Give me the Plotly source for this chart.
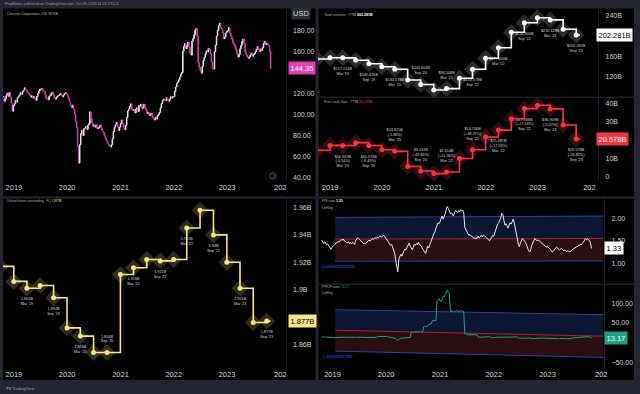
import plotly.graph_objects as go
import pandas as pd

# ---------------- DATA ----------------
last_week = "2023-10-27"

# weekly closes (CVX, 1W), Oct-2018 .. Oct-2023
price_close = [
    117.5, 113.0,
    115.2, 118.4, 120.9, 117.6, 121.3,
    116.8, 111.4, 103.5, 108.8,
    110.6, 113.9, 112.2, 116.4,
    117.8, 119.1, 121.4, 119.6,
    122.3, 123.8, 125.9, 124.1, 123.2,
    121.1, 120.3, 118.6, 116.9,
    118.2, 116.1, 117.4, 115.2, 114.0,
    117.5, 120.6, 122.8, 124.4,
    124.6, 125.3, 123.1, 122.4,
    119.0, 116.2, 115.0, 114.3, 117.7,
    118.6, 120.5, 121.8, 119.4,
    116.4, 115.0, 116.8, 117.9,
    118.6, 119.3, 120.4, 118.5, 117.2,
    118.9, 120.2, 121.3, 120.1,
    118.1, 115.6, 112.3, 109.0, 107.1,
    109.5, 105.3, 100.8, 93.4,
    88.2, 70.1, 54.0, 71.6,
    82.0, 85.4, 80.3, 86.8,
    87.5, 88.9, 86.2, 90.1, 91.7,
    103.0, 96.4, 92.3, 89.2,
    90.1, 88.2, 90.6, 87.0, 87.5,
    88.4, 90.3, 87.6, 84.7,
    83.6, 80.5, 77.8, 75.4,
    73.2, 72.0, 70.8, 69.4, 71.5,
    77.2, 84.1, 88.3, 90.6,
    93.2, 89.0, 85.1, 88.4,
    91.8, 95.2, 91.4, 87.3, 86.0,
    90.2, 97.6, 103.8, 105.7,
    108.3, 110.6, 105.2, 104.4,
    104.9, 101.8, 105.5, 106.9, 103.1,
    109.2, 108.1, 110.4, 106.3,
    107.0, 110.2, 106.1, 104.4,
    101.2, 102.6, 99.3, 100.5, 101.8,
    98.1, 96.3, 95.1, 97.4,
    96.0, 99.2, 100.4, 102.5,
    106.8, 110.9, 113.6, 115.2, 114.0,
    113.5, 116.3, 114.2, 113.0,
    115.1, 117.4, 116.0, 117.3, 117.4,
    122.4, 126.6, 129.8, 131.3,
    133.4, 136.2, 138.7, 140.5,
    160.8, 165.3, 168.2, 163.0,
    166.1, 169.4, 164.7, 158.9, 157.0,
    170.2, 172.8, 176.4, 180.6,
    182.3, 175.1, 150.4, 145.2,
    142.1, 139.8, 146.3, 152.0, 154.9,
    158.4, 161.2, 160.0, 163.4,
    162.1, 158.0, 150.2, 144.3, 143.7,
    160.3, 166.5, 175.2, 180.4,
    185.1, 187.6, 183.0, 182.2,
    178.4, 172.6, 174.3, 178.0, 179.5,
    180.2, 183.4, 178.1, 175.0,
    172.3, 168.5, 167.4, 165.2,
    162.0, 158.3, 155.1, 157.6, 163.1,
    166.4, 170.2, 172.5, 168.3,
    160.1, 157.4, 155.2, 154.0,
    155.3, 157.2, 159.1, 156.0, 157.4,
    158.2, 160.3, 162.5, 165.1,
    162.2, 160.4, 163.0, 161.3,
    164.2, 168.1, 170.3, 167.0, 168.6,
    167.2, 166.1, 160.4, 144.35,
]

ps_ratio = [
    1.52, 1.47,
    1.44, 1.48, 1.45, 1.41, 1.43,
    1.38, 1.34, 1.31, 1.35,
    1.38, 1.40, 1.43, 1.45,
    1.46, 1.48, 1.47, 1.50,
    1.53, 1.51, 1.54, 1.50, 1.49,
    1.47, 1.45, 1.48, 1.44,
    1.46, 1.43, 1.47, 1.45, 1.42,
    1.50, 1.54, 1.57, 1.55,
    1.53, 1.50, 1.47, 1.45,
    1.43, 1.45, 1.44, 1.47, 1.50,
    1.52, 1.49, 1.52, 1.55,
    1.53, 1.55, 1.57, 1.55,
    1.58, 1.56, 1.59, 1.61, 1.58,
    1.60, 1.62, 1.60, 1.57,
    1.55, 1.51, 1.47, 1.43, 1.40,
    1.42, 1.35, 1.28, 1.22,
    1.05, 0.90, 0.81, 1.10,
    1.14, 1.20, 1.16, 1.25,
    1.28, 1.32, 1.30, 1.36, 1.40,
    1.45, 1.38, 1.33, 1.30,
    1.35, 1.42, 1.40, 1.44, 1.41,
    1.47, 1.42, 1.40, 1.38,
    1.32, 1.28, 1.25, 1.22,
    1.30, 1.38, 1.34, 1.42, 1.45,
    1.52, 1.60, 1.66, 1.70,
    1.78, 1.86, 1.90, 1.88,
    1.92, 2.00, 2.05, 1.98, 2.03,
    2.10, 2.20, 2.26, 2.22,
    2.15, 2.10, 2.12, 2.08,
    2.05, 2.12, 2.18, 2.15, 2.13,
    2.17, 2.14, 2.19, 2.16,
    2.18, 2.12, 1.80, 1.74,
    1.70, 1.66, 1.62, 1.64, 1.61,
    1.60, 1.58, 1.55, 1.57,
    1.54, 1.58, 1.60, 1.56,
    1.60, 1.62, 1.59, 1.63, 1.61,
    1.60, 1.57, 1.55, 1.52,
    1.50, 1.54, 1.58, 1.62, 1.60,
    1.68, 1.75, 1.82, 1.88,
    1.90, 1.95, 2.02, 2.11,
    2.08, 1.95, 1.85, 1.88,
    1.80, 1.78, 1.85, 1.90, 1.87,
    1.95, 1.98, 1.90, 1.80,
    1.70, 1.55, 1.42, 1.37,
    1.45, 1.52, 1.55, 1.52, 1.50,
    1.46, 1.40, 1.33, 1.28,
    1.25, 1.30, 1.40, 1.48, 1.50,
    1.55, 1.53, 1.50, 1.52,
    1.51, 1.49, 1.46, 1.44,
    1.42, 1.40, 1.38, 1.36, 1.37,
    1.36, 1.34, 1.31, 1.28,
    1.25, 1.27, 1.30, 1.33,
    1.36, 1.34, 1.31, 1.30, 1.32,
    1.33, 1.30, 1.28, 1.29,
    1.27, 1.26, 1.28, 1.27,
    1.25, 1.28, 1.30, 1.32, 1.33,
    1.34, 1.36, 1.37, 1.38,
    1.40, 1.42, 1.41, 1.44,
    1.46, 1.50, 1.55, 1.52, 1.54,
    1.53, 1.51, 1.45, 1.33,
]

pfcf_ratio = [
    15.0, 14.6,
    14.8, 15.0, 14.5, 14.2, 14.6,
    13.8, 13.0, 12.2, 12.8,
    13.1, 13.3, 13.6, 13.9,
    13.8, 13.9, 14.1, 14.0,
    14.3, 14.4, 14.6, 14.4, 14.3,
    14.2, 14.0, 13.8, 13.6,
    13.7, 13.5, 13.6, 13.4, 13.3,
    13.8, 14.1, 14.3, 14.4,
    14.4, 14.5, 14.3, 14.2,
    13.8, 13.5, 13.4, 13.6, 13.7,
    13.7, 14.0, 14.1, 13.9,
    13.6, 13.4, 13.5, 13.6,
    15.8, 16.0, 16.1, 16.0, 15.9,
    15.9, 16.1, 16.3, 16.2,
    16.0, 15.6, 15.2, 14.6, 14.2,
    13.5, 12.8, 12.1, 11.2,
    10.6, 8.3, 6.5, 8.6,
    11.8, 12.2, 11.5, 12.4,
    12.6, 12.8, 12.5, 13.0, 13.2,
    14.8, 13.8, 26.5, 25.6,
    27.5, 27.0, 28.0, 27.2, 27.4,
    28.0, 29.0, 28.0, 27.0,
    26.0, 40.0, 42.0, 41.0,
    40.0, 44.0, 46.0, 47.0, 46.5,
    52.0, 57.0, 56.0, 55.0,
    56.0, 104.0, 108.0, 111.0,
    106.0, 103.0, 108.0, 118.0, 116.0,
    122.0, 128.0, 132.0, 126.0,
    124.0, 79.0, 78.0, 77.0,
    78.0, 80.0, 79.0, 81.0, 80.0,
    80.0, 78.0, 81.0, 79.0,
    80.0, 78.0, 23.0, 22.0,
    21.0, 20.5, 20.0, 20.3, 20.1,
    19.8, 19.5, 19.2, 19.6,
    19.4, 20.0, 14.0, 14.2,
    14.5, 14.8, 15.1, 15.2, 15.0,
    15.0, 15.3, 15.0, 14.9,
    15.1, 15.2, 13.0, 12.8, 12.9,
    13.2, 13.6, 14.0, 14.2,
    14.5, 14.8, 15.0, 15.2,
    13.8, 14.3, 14.6, 14.2,
    14.4, 14.6, 14.2, 13.8, 13.6,
    14.5, 14.8, 15.1, 15.3,
    15.4, 14.9, 12.0, 11.5,
    11.3, 11.1, 11.5, 11.9, 12.1,
    12.2, 12.4, 12.3, 12.5,
    12.2, 11.8, 10.5, 10.0, 10.2,
    10.8, 11.2, 11.7, 12.0,
    12.3, 12.4, 12.2, 12.1,
    11.9, 11.5, 11.6, 11.8, 11.9,
    12.0, 12.2, 11.8, 11.6,
    11.4, 11.1, 11.0, 10.9,
    10.7, 10.4, 10.3, 10.8, 11.0,
    11.0, 11.2, 11.3, 11.1,
    10.7, 10.5, 10.4, 10.3,
    10.4, 10.5, 10.6, 12.6, 12.4,
    12.5, 12.7, 12.9, 13.2,
    13.8, 14.2, 14.5, 14.3,
    14.6, 15.0, 15.5, 15.2, 15.3,
    15.3, 15.1, 14.7, 13.17,
]

quarters = ["2018-09-30", "2018-12-31", "2019-03-31", "2019-06-30", "2019-09-30",
            "2019-12-31", "2020-03-31", "2020-06-30", "2020-09-30", "2020-12-31",
            "2021-03-31", "2021-06-30", "2021-09-30", "2021-12-31", "2022-03-31",
            "2022-06-30", "2022-09-30", "2022-12-31", "2023-03-31", "2023-06-30",
            "2023-09-30"]
quarter_names = ["Sep '18", "Dec '18", "Mar '19", "Jun '19", "Sep '19", "Dec '19",
                 "Mar '20", "Jun '20", "Sep '20", "Dec '20", "Mar '21", "Jun '21",
                 "Sep '21", "Dec '21", "Mar '22", "Jun '22", "Sep '22", "Dec '22",
                 "Mar '23", "Jun '23", "Sep '23"]

revenue_ttm = [154.9, 157.5, 157.214, 152.3, 145.426, 139.7, 134.578, 113.4, 104.601,
               93.7, 96.508, 116.8, 134.578, 156.3, 177.2, 207.6, 226.6, 236.4,
               232.128, 213.5, 202.281]
fcf_ttm = [14.4, 17.059, 16.967, 18.55, 16.975, 14.686, 13.825, 5.591, 3.137,
           1.727, 2.614, 9.912, 14.706, 21.59, 25.381, 31.53, 37.068, 38.88,
           36.909, 28.12, 20.578]
shares_dil = [1.917, 1.906, 1.901, 1.903, 1.894, 1.872, 1.866, 1.854, 1.854,
              1.911, 1.916, 1.922, 1.921, 1.922, 1.945, 1.958, 1.940, 1.920,
              1.901, 1.876, 1.877]

# linear-regression channel end values
ps_band_dates = ["2019-01-19", "2024-01-15"]
ps_upper = [2.02, 2.05]
ps_mid = [1.537, 1.552]
ps_lower = [1.045, 1.052]
pfcf_band_dates = ["2019-01-19", "2024-01-15"]
pfcf_upper = [83.3, 70.8]
pfcf_mid = [31.7, 16.7]
pfcf_lower = [-20.8, -36.7]

year_ticks = ["2019-01-01", "2020-01-01", "2021-01-01", "2022-01-01", "2023-01-01", "2024-01-01"]
year_text = ["2019", "2020", "2021", "2022", "2023", "202"]

# ---------------- LAYOUT HELPERS ----------------
W, H = 640, 394
FONT = "Liberation Sans"
TICK = "#d1d4dc"
BG = "#232631"


def fx(px):
    return px / W


def fy(py):
    return 1 - py / H


price_dates = pd.date_range(end=last_week, periods=len(price_close), freq="W-FRI")
ps_dates = pd.date_range(end=last_week, periods=len(ps_ratio), freq="W-FRI")
pfcf_dates = pd.date_range(end=last_week, periods=len(pfcf_ratio), freq="W-FRI")
price_open = [price_close[0]] + price_close[:-1]
price_high = [max(o, c) for o, c in zip(price_open, price_close)]
price_low = [min(o, c) for o, c in zip(price_open, price_close)]

fig = go.Figure()

# price candles
fig.add_trace(go.Candlestick(
    x=price_dates, open=price_open, high=price_high, low=price_low, close=price_close,
    increasing=dict(line=dict(color="#e6e6e6", width=1), fillcolor="#e6e6e6"),
    decreasing=dict(line=dict(color="#d93ab0", width=1), fillcolor="#d93ab0"),
    xaxis="x", yaxis="y", showlegend=False, hoverinfo="skip"))


def step_series(vals, color, halo, xa, ya, label_pos, label_fn):
    texts, poss = [], []
    for i, v in enumerate(vals):
        if i >= 2 and i % 2 == 0:
            texts.append(label_fn(i))
        else:
            texts.append("")
        poss.append(label_pos.get(i, "bottom center"))
    fig.add_trace(go.Scatter(x=[quarters[-1], last_week], y=[vals[-1], vals[-1]], mode="lines",
                             line=dict(color=color, width=1.6), xaxis=xa, yaxis=ya,
                             showlegend=False, hoverinfo="skip"))
    fig.add_trace(go.Scatter(x=quarters, y=vals, mode="markers+text",
                             marker=dict(symbol="diamond", size=13, color=halo),
                             text=texts, textposition=poss,
                             textfont=dict(size=3.8, color="#d1d4dc", family=FONT),
                             xaxis=xa, yaxis=ya, showlegend=False, hoverinfo="skip"))
    fig.add_trace(go.Scatter(x=quarters, y=vals, mode="lines+markers",
                             line=dict(color=color, width=1.6, shape="hv"),
                             marker=dict(size=5, color=color),
                             xaxis=xa, yaxis=ya, showlegend=False, hoverinfo="skip"))


step_series(revenue_ttm, "#ffffff", "rgba(255,255,255,0.17)", "x2", "y2",
            {8: "top center", 10: "top center"},
            lambda i: f"${revenue_ttm[i]:.3f}B<br>{quarter_names[i]}")
step_series(fcf_ttm, "#f23645", "rgba(242,54,69,0.22)", "x3", "y3",
            {6: "top center", 8: "top center", 10: "top center", 12: "top center"},
            lambda i: f"${fcf_ttm[i]:.3f}B<br>({(fcf_ttm[i] / fcf_ttm[i - 1] - 1) * 100:+.2f}%)<br>{quarter_names[i]}")
step_series(shares_dil, "#f7e38a", "rgba(247,227,138,0.2)", "x4", "y4",
            {8: "top center"},
            lambda i: f"{shares_dil[i]:.3f}".rstrip("0") + f"B<br>{quarter_names[i]}")


def channel(dates, lower, mid, upper, xa, ya):
    fig.add_trace(go.Scatter(x=dates, y=lower, mode="lines", line=dict(color="#2345a8", width=1),
                             xaxis=xa, yaxis=ya, showlegend=False, hoverinfo="skip"))
    fig.add_trace(go.Scatter(x=dates, y=mid, mode="lines", line=dict(color="#a3262f", width=1),
                             fill="tonexty", fillcolor="#2a0f12",
                             xaxis=xa, yaxis=ya, showlegend=False, hoverinfo="skip"))
    fig.add_trace(go.Scatter(x=dates, y=upper, mode="lines", line=dict(color="#2345a8", width=1),
                             fill="tonexty", fillcolor="#0b1733",
                             xaxis=xa, yaxis=ya, showlegend=False, hoverinfo="skip"))


channel(ps_band_dates, ps_lower, ps_mid, ps_upper, "x5", "y5")
fig.add_trace(go.Scatter(x=ps_dates, y=ps_ratio, mode="lines", line=dict(color="#e8e8e8", width=1),
                         xaxis="x5", yaxis="y5", showlegend=False, hoverinfo="skip"))
channel(pfcf_band_dates, pfcf_lower, pfcf_mid, pfcf_upper, "x6", "y6")
fig.add_trace(go.Scatter(x=pfcf_dates, y=pfcf_ratio, mode="lines", line=dict(color="#1f9f86", width=1),
                         xaxis="x6", yaxis="y6", showlegend=False, hoverinfo="skip"))


def xax(dom, rng, show, anchor):
    return dict(domain=dom, range=rng, type="date", anchor=anchor, showgrid=False, zeroline=False,
                showline=False, tickvals=year_ticks, ticktext=year_text, showticklabels=show,
                ticks="", tickfont=dict(size=7.5, color=TICK, family=FONT), fixedrange=True,
                rangeslider=dict(visible=False))


def yax(dom, rng, anchor, **kw):
    d = dict(domain=dom, range=rng, anchor=anchor, side="right", showgrid=False, zeroline=False,
             showline=True, linecolor="#1e212a", linewidth=1, ticks="",
             tickfont=dict(size=7, color=TICK, family=FONT), ticklabelstandoff=5, fixedrange=True)
    d.update(kw)
    return d


L_X = [fx(3), fx(287)]
TR_X = [fx(320), fx(601)]
BR_X = [fx(320), fx(607)]
L_RANGE = ["2018-10-18", "2024-02-07"]
TR_RANGE = ["2018-10-11", "2024-03-03"]
BR_RANGE = ["2018-09-28", "2024-01-21"]

# (tick labels that sit behind the last-value boxes are hidden, as in the original)
fig.update_layout(
    xaxis=xax(L_X, L_RANGE, True, "y"),
    yaxis=yax([fy(181), fy(9)], [37, 201], "x", tickvals=[40, 60, 80, 100, 120, 160, 180],
              tickformat=".2f"),
    xaxis2=xax(TR_X, TR_RANGE, False, "y2"),
    yaxis2=yax([fy(97), fy(9)], [79.9, 253.6], "x2", tickvals=[120, 160, 240],
               ticktext=["120B", "160B", "240B"]),
    xaxis3=xax(TR_X, TR_RANGE, True, "y3"),
    yaxis3=yax([fy(181), fy(97.5)], [-2.3, 43.1], "x3", tickvals=[0, 10, 30, 40],
               ticktext=["0", "10B", "30B", "40B"]),
    xaxis4=xax(L_X, L_RANGE, True, "y4"),
    yaxis4=yax([fy(368), fy(198.5)], [1.8427, 1.9666], "x4",
               tickvals=[1.86, 1.90, 1.92, 1.94, 1.96],
               ticktext=["1.86B", "1.9B", "1.92B", "1.94B", "1.96B"]),
    xaxis5=xax(BR_X, BR_RANGE, False, "y5"),
    yaxis5=yax([fy(284), fy(198.5)], [0.54, 2.44], "x5", tickvals=[1.0, 1.5, 2.0], tickformat=".2f"),
    xaxis6=xax(BR_X, BR_RANGE, True, "y6"),
    yaxis6=yax([fy(368), fy(284.5)], [-63.3, 146.7], "x6", tickvals=[-50, 50, 100],
               tickformat=".2f"),
)

# panel backgrounds + separators
shapes = []
for x0, x1, y0, y1 in [(3, 317, 8.5, 196.5), (320, 637, 8.5, 196.5),
                       (3, 317, 198.5, 380), (320, 637, 198.5, 380)]:
    shapes.append(dict(type="rect", xref="paper", yref="paper", x0=fx(x0), x1=fx(x1),
                       y0=fy(y1), y1=fy(y0), fillcolor="#000000", line=dict(width=0), layer="below"))
for yy in (97.2, 284.2):
    shapes.append(dict(type="line", xref="paper", yref="paper", x0=fx(320), x1=fx(637),
                       y0=fy(yy), y1=fy(yy), line=dict(color="#2a2e39", width=1)))
shapes.append(dict(type="circle", xref="paper", yref="paper", x0=fx(271), x1=fx(277),
                   y0=fy(179), y1=fy(173), line=dict(color="#9c27b0", width=1)))
fig.update_layout(shapes=shapes)

ann = []


def txt(x, y, s, size=3.6, color="#b2b5be", **kw):
    ann.append(dict(xref="paper", yref="paper", x=fx(x), y=fy(y), text=s, showarrow=False,
                    xanchor="left", yanchor="middle", align="left",
                    font=dict(size=size, color=color, family=FONT), **kw))


txt(3, 4, "PropNotes published on TradingView.com, Oct 29, 2023 11:22 UTC-4", size=3.7, color="#a0a3ab")
txt(5, 14, "Chevron Corporation, 1W, NYSE", size=3.5)
txt(324, 15, f"Total revenue · TTM <b><span style='color:#ffffff'>{revenue_ttm[-1]:.3f}B</span></b>")
txt(324, 102, f"Free cash flow · TTM <span style='color:#f23645'>{fcf_ttm[-1]:.3f}B</span>")
txt(5, 201, f"Diluted shares outstanding · FQ <span style='color:#f7e38a'>{shares_dil[-1]:.3f}B</span>",
    size=3.1)
txt(322, 201.5, f"P/S ratio <b><span style='color:#ffffff'>{ps_ratio[-1]:.2f}</span></b>", size=3.4)
txt(322, 207.5, "LinReg", size=3.4)
txt(322, 287, f"P/FCF ratio <span style='color:#1f9f86'>{pfcf_ratio[-1]:.2f}</span>", size=3.4)
txt(322, 293, "LinReg", size=3.4)
txt(322, 266.5, "0.000434262831505", color="#2962ff", size=3.6)
txt(322, 357, "-1.3090037437580", color="#2962ff", size=3.6)
txt(4, 388, "<b>TV</b> TradingView", size=4, color="#a0a3ab")
txt(292, 13, "USD", size=7.5, color="#d1d4dc", bgcolor="#2a2e39", borderpad=1)
txt(273.2, 176, "P", size=4, color="#9c27b0")


def box(x, y, yref, s, bg, fg):
    ann.append(dict(xref="paper", yref=yref, x=fx(x), y=y, text=s, showarrow=False,
                    xanchor="left", yanchor="middle", bgcolor=bg, borderpad=1.5,
                    font=dict(size=7.5, color=fg, family=FONT)))


box(289, price_close[-1], "y", f"{price_close[-1]:.2f}", "#e040b0", "#ffffff")
box(599, revenue_ttm[-1], "y2", f"{revenue_ttm[-1]:.3f}B", "#ffffff", "#000000")
box(599, fcf_ttm[-1], "y3", f"{fcf_ttm[-1]:.3f}B", "#f23645", "#ffffff")
box(289, shares_dil[-1], "y4", f"{shares_dil[-1]:.3f}B", "#f7e38a", "#000000")
box(607, ps_ratio[-1], "y5", f"{ps_ratio[-1]:.2f}", "#ffffff", "#000000")
box(607, pfcf_ratio[-1], "y6", f"{pfcf_ratio[-1]:.2f}", "#1f9f86", "#ffffff")

fig.update_layout(annotations=ann, width=W, height=H, autosize=False,
                  margin=dict(l=0, r=0, t=0, b=0), paper_bgcolor=BG, plot_bgcolor="rgba(0,0,0,0)",
                  hovermode=False, showlegend=False)

fig.write_html("out.html", config={"displayModeBar": False, "staticPlot": True},
               post_script="document.body.style.margin='0';document.body.style.padding='0';"
                           "document.body.style.overflow='hidden';")
